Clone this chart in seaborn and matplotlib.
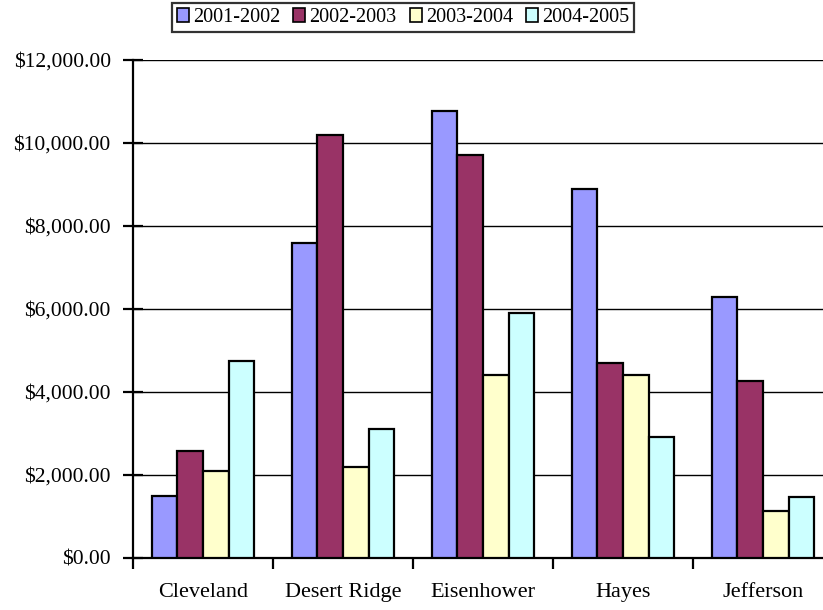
import matplotlib
matplotlib.use("Agg")
import matplotlib.pyplot as plt
from matplotlib.ticker import FuncFormatter, MultipleLocator
import seaborn as sns
import pandas as pd

schools = ["Cleveland", "Desert Ridge", "Eisenhower", "Hayes", "Jefferson"]
years = ["2001-2002", "2002-2003", "2003-2004", "2004-2005"]
v_2001_2002 = [1500, 7600, 10780, 8900, 6300]
v_2002_2003 = [2580, 10200, 9720, 4700, 4270]
v_2003_2004 = [2100, 2200, 4400, 4400, 1130]
v_2004_2005 = [4750, 3100, 5900, 2920, 1470]
colors = ["#9999FF", "#993366", "#FFFFCC", "#CCFFFF"]

series = [v_2001_2002, v_2002_2003, v_2003_2004, v_2004_2005]
df = pd.DataFrame(
    [(s, y, vals[i]) for y, vals in zip(years, series) for i, s in enumerate(schools)],
    columns=["School", "Year", "Amount"],
)

sns.set_theme(style="white")
plt.rcParams["font.family"] = ["Liberation Serif", "DejaVu Serif"]

fig = plt.figure(figsize=(8.23, 6.10), dpi=100)
W, H = 823, 610
ax = fig.add_axes([133 / W, 52 / H, 700 / W, 498 / H])

sns.barplot(
    data=df, x="School", y="Amount", hue="Year", hue_order=years,
    palette=colors, width=0.73, gap=0, edgecolor="black", linewidth=1.6,
    saturation=1, ax=ax, legend=True, errorbar=None, zorder=3,
)

ax.set_xlim(-0.5, len(schools) - 0.5)
ax.set_ylim(0, 12000)
ax.yaxis.set_major_locator(MultipleLocator(2000))
ax.yaxis.set_major_formatter(FuncFormatter(lambda v, p: f"${v:,.2f}"))
ax.grid(axis="y", color="black", linewidth=1.0, zorder=0)
ax.set_axisbelow(True)
ax.set_xlabel("")
ax.set_ylabel("")
# plot-area top edge is a grey line
ax.get_ygridlines()[-1].set_color("#808080")
ax.get_ygridlines()[-1].set_linewidth(1.4)

for side in ["top", "right"]:
    ax.spines[side].set_visible(False)
for side in ["left", "bottom"]:
    ax.spines[side].set_color("black")
    ax.spines[side].set_linewidth(1.6)

# category boundaries carry the x ticks; labels sit between them
ax.set_xticks([i - 0.5 for i in range(len(schools) + 1)], minor=False)
ax.set_xticklabels([])
ax.set_xticks(range(len(schools)), minor=True)
ax.set_xticklabels(schools, minor=True)
ax.tick_params(axis="x", which="major", direction="out", length=8, width=1.6,
               color="black", bottom=True)
ax.tick_params(axis="x", which="minor", length=0, pad=18, labelsize=16,
               labelcolor="black", bottom=True)
ax.tick_params(axis="y", direction="inout", length=14, width=1.6, color="black",
               labelsize=15.5, labelcolor="black", left=True, pad=9)

handles, labels = ax.get_legend_handles_labels()
ax.get_legend().remove()
leg = fig.legend(
    handles, labels, loc="center", bbox_to_anchor=(403 / W, 1 - 17.5 / H),
    ncol=4, frameon=True, fancybox=False, edgecolor="black", fontsize=14.5,
    handlelength=0.6, handleheight=0.65, handletextpad=0.2, columnspacing=0.65,
    borderpad=0.25, borderaxespad=0, labelcolor="black",
)
leg.get_frame().set_linewidth(1.6)
for h in leg.legend_handles:
    h.set_edgecolor("black")
    h.set_linewidth(1.2)

fig.savefig("out.png", dpi=100)
